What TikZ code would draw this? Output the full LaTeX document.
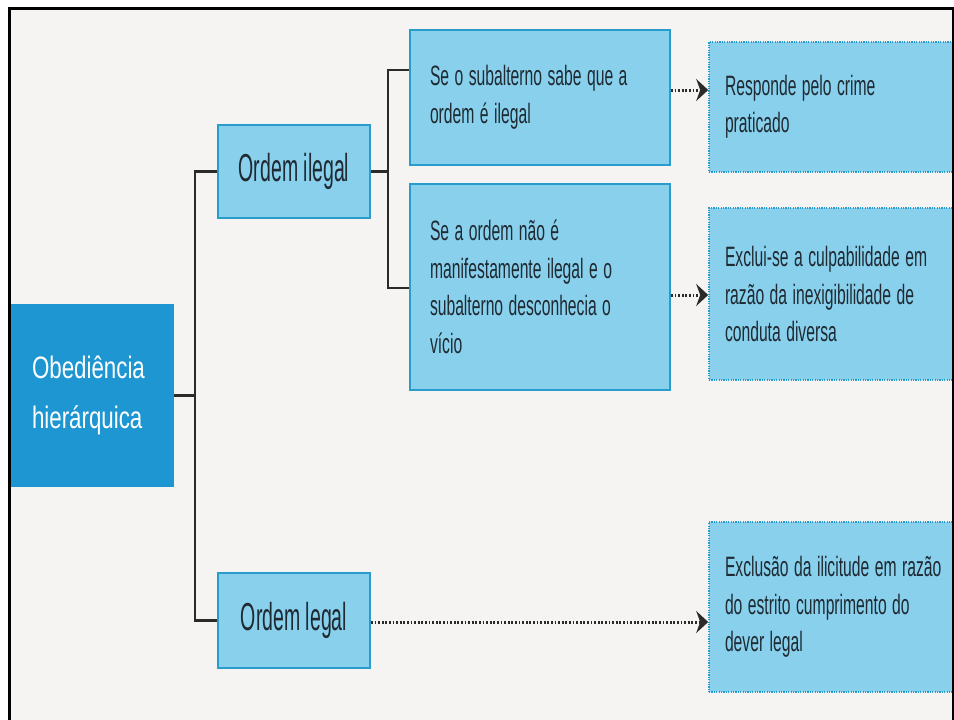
\documentclass[tikz,border=0pt]{standalone}
\usepackage{fontspec}
\setmainfont{Liberation Sans}[FakeStretch=0.56]
\newfontfamily\ordfont{Liberation Sans}[FakeStretch=0.5]
\newfontfamily\obfont{Liberation Sans}[FakeStretch=0.72]
\usetikzlibrary{arrows.meta}
\definecolor{paper}{HTML}{F6F4F3}
\definecolor{deepblue}{HTML}{1E96D2}
\definecolor{lightblue}{HTML}{88D0EC}
\definecolor{edgeblue}{HTML}{2A9CCB}
\definecolor{ink}{HTML}{1F2A33}
\definecolor{linec}{HTML}{2A2A2A}
\newcommand\myspacing{\spaceskip 5.5pt plus 1pt minus 1pt\relax}
\begin{document}
\begin{tikzpicture}[x=1pt,y=-1pt,
  solidbox/.style={rectangle, draw=edgeblue, line width=2pt, fill=lightblue, text=ink,
    inner ysep=0pt, font=\fontsize{28}{37.5}\selectfont, execute at begin node=\myspacing},
  dotbox/.style={rectangle, draw=edgeblue, line width=1.6pt, dash pattern=on 1.2pt off 1.2pt,
    fill=lightblue, text=ink, inner ysep=0pt, font=\fontsize{28}{37.5}\selectfont,
    execute at begin node=\myspacing},
  ordbox/.style={solidbox, align=center, minimum width=152pt,
    font=\ordfont\fontsize{39}{44}\selectfont},
  tree/.style={draw=linec, line width=2.6pt},
  dotarrow/.style={draw=linec, line width=3pt, dash pattern=on 1.8pt off 1.8pt,
    -{Stealth[length=12pt,width=22pt,inset=4pt]}}
]
\useasboundingbox (0,0) rectangle (954,720);
\clip (0,0) rectangle (954,720);
\fill[white] (0,0) rectangle (954,720);
\fill[paper] (9,8) rectangle (954,720);

% boxes
\node[rectangle, fill=deepblue, text=white, inner sep=0pt, inner xsep=22pt,
  text width=120pt, minimum height=183pt, align=left,
  font=\obfont\fontsize{31}{50}\selectfont] (OB) at (92,395.5) {Obediência\\hierárquica};
\node[ordbox, minimum height=93pt] (OI) at (294,171.5) {Ordem ilegal};
\node[ordbox, minimum height=95pt] (OL) at (294,620.5) {Ordem legal};

\node[solidbox, align=left, inner xsep=20pt, text width=220pt, minimum height=135pt]
  (B1) at (540,97.5) {Se o subalterno sabe que a\\ordem é ilegal};
\node[solidbox, align=left, inner xsep=20pt, text width=220pt, minimum height=206pt]
  (B2) at (540,287) {Se a ordem não é\\manifestamente ilegal e o\\subalterno desconhecia o\\vício};

\node[dotbox, align=left, inner xsep=16pt, text width=240pt, minimum height=130pt]
  (R1) at (845,107) {Responde pelo crime\\praticado};
\node[dotbox, align=left, inner xsep=16pt, text width=240pt, minimum height=172pt]
  (R2) at (845,294) {Exclui-se a culpabilidade em\\razão da inexigibilidade de\\conduta diversa};
\node[dotbox, align=left, inner xsep=16pt, text width=240pt, minimum height=170pt]
  (R3) at (845,607) {Exclusão da ilicitude em razão\\do estrito cumprimento do\\dever legal};

% tree connectors
\coordinate (j1) at (195,395.5);
\coordinate (j2) at (388,171.5);
\coordinate (y70) at (0,70);
\coordinate (y288) at (0,288);
\coordinate (b1in) at (B1.west |- y70);
\coordinate (b2in) at (B2.west |- y288);
\draw[tree] (OB.east) -- (j1);
\draw[tree] (OI.west) -| (j1);
\draw[tree] (OL.west) -| (j1);
\draw[tree] (OI.east) -- (j2);
\draw[tree] (b1in) -| (j2);
\draw[tree] (b2in) -| (j2);

% dotted arrows
\coordinate (y90) at (0,90);
\coordinate (y295) at (0,295);
\coordinate (y622) at (0,622);
\coordinate (a1s) at (B1.east |- y90);
\coordinate (a1e) at (R1.west |- y90);
\coordinate (a2s) at (B2.east |- y295);
\coordinate (a2e) at (R2.west |- y295);
\coordinate (a3s) at (OL.east |- y622);
\coordinate (a3e) at (R3.west |- y622);
\draw[dotarrow] (a1s) -- (a1e);
\draw[dotarrow] (a2s) -- (a2e);
\draw[dotarrow] (a3s) -- (a3e);

% frame
\draw[black, line width=3pt] (9,720) -- (9,8) -- (954,8);
\draw[black, line width=2pt] (953,8) -- (953,720);
\end{tikzpicture}
\end{document}
